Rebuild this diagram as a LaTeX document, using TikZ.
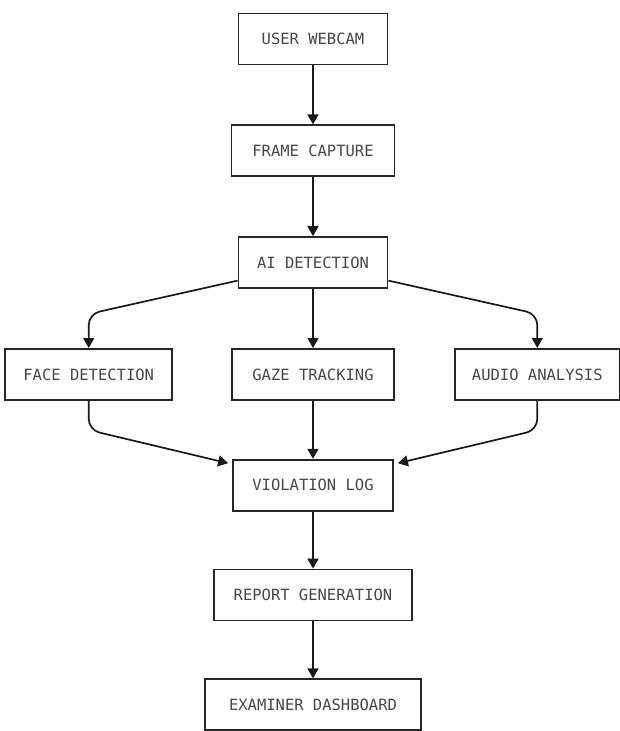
\documentclass[tikz,border=0pt]{standalone}
\usepackage{fontspec}
\setmonofont{DejaVu Sans Mono}
\usetikzlibrary{positioning,arrows.meta}

\tikzset{
  stage/.style={draw=black!85, line width=1.8pt, minimum height=51pt,
    inner xsep=4pt, text=black!72, font=\ttfamily\fontsize{15.5}{17}\selectfont},
  flow/.style={line width=1.7pt, draw=black!90,
    -{Triangle[length=10pt,width=11pt]}},
}

\begin{document}
\begin{tikzpicture}[x=1pt,y=1pt]
  \useasboundingbox (0,0) rectangle (619,-731);

  % main chain
  \node[stage, minimum width=149pt] (cam) at (313,-39) {USER WEBCAM};
  \node[stage, minimum width=163pt, below=59pt of cam] (frame) {FRAME CAPTURE};
  \node[stage, minimum width=149pt, below=59pt of frame] (ai) {AI DETECTION};
  \node[stage, minimum width=162pt, below=59pt of ai] (gaze) {GAZE TRACKING};
  \node[stage, minimum width=167pt, left=58pt of gaze] (face) {FACE DETECTION};
  \node[stage, minimum width=165pt, right=59pt of gaze] (audio) {AUDIO ANALYSIS};
  \node[stage, minimum width=160pt, below=58pt of gaze] (viol) {VIOLATION LOG};
  \node[stage, minimum width=198pt, below=57pt of viol] (report) {REPORT GENERATION};
  \node[stage, minimum width=216pt, below=57pt of report] (exam) {EXAMINER DASHBOARD};

  % bends
  \coordinate (fsplit) at (face.north |- 0,-314);
  \coordinate (asplit) at (audio.north |- 0,-314);
  \coordinate (fjoin) at (face.south |- 0,-430);
  \coordinate (ajoin) at (audio.south |- 0,-430);

  \draw[flow] (cam) -- (frame);
  \draw[flow] (frame) -- (ai);
  \draw[flow] (ai) -- (gaze);
  \draw[flow, rounded corners=11pt] ([yshift=-18pt]ai.west) -- (fsplit) -- (face.north);
  \draw[flow, rounded corners=11pt] ([yshift=-18pt]ai.east) -- (asplit) -- (audio.north);
  \draw[flow] (gaze) -- (viol);
  \draw[flow, rounded corners=11pt] (face.south) -- (fjoin) -- ([xshift=-4pt,yshift=22pt]viol.west);
  \draw[flow, rounded corners=11pt] (audio.south) -- (ajoin) -- ([xshift=4pt,yshift=22pt]viol.east);
  \draw[flow] (viol) -- (report);
  \draw[flow] (report) -- (exam);
\end{tikzpicture}
\end{document}
